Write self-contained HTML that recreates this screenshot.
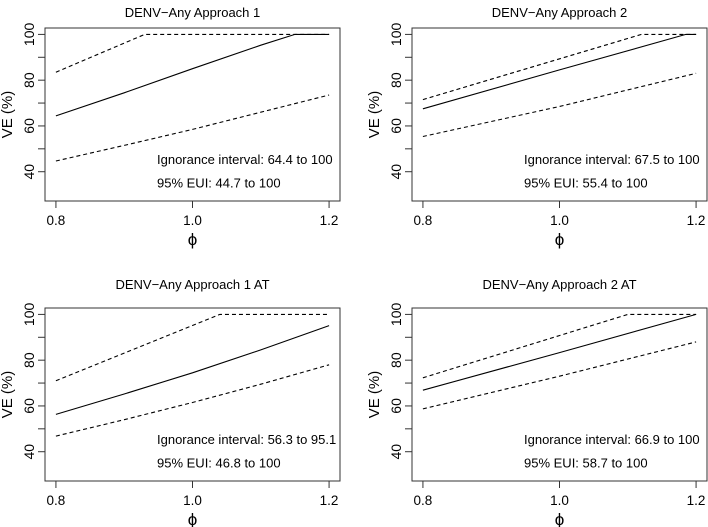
<!DOCTYPE html>
<html><head><meta charset="utf-8"><style>
body{margin:0;background:#fff}
svg{display:block;font-family:"Liberation Sans",Arial,sans-serif}
</style></head><body>
<svg id="chart" width="708" height="527" viewBox="0 0 708 527"></svg>
<script>
const titles=["DENV−Any Approach 1","DENV−Any Approach 2","DENV−Any Approach 1 AT","DENV−Any Approach 2 AT"];
const ignoranceText=["Ignorance interval: 64.4 to 100","Ignorance interval: 67.5 to 100","Ignorance interval: 56.3 to 95.1","Ignorance interval: 66.9 to 100"];
const euiText=["95% EUI: 44.7 to 100","95% EUI: 55.4 to 100","95% EUI: 46.8 to 100","95% EUI: 58.7 to 100"];
const solidX=[[0.8,0.9,1.0,1.1,1.15,1.2],[0.8,1.0,1.185,1.2],[0.8,0.9,1.0,1.1,1.2],[0.8,1.0,1.2]];
const solidY=[[64.4,74.5,85,95.3,100,100],[67.5,84.5,100,100],[56.3,65.2,74.5,84.5,95.1],[66.9,83.3,100]];
const upperX=[[0.8,0.93,1.2],[0.8,1.12,1.2],[0.8,1.04,1.2],[0.8,1.1,1.2]];
const upperY=[[83.5,100,100],[71.5,100,100],[71,100,100],[72.3,100,100]];
const lowerX=[[0.8,0.9,1.0,1.1,1.2],[0.8,1.0,1.2],[0.8,0.9,1.0,1.1,1.2],[0.8,1.0,1.2]];
const lowerY=[[44.7,51.5,58.5,66,73.5],[55.4,68.5,83],[46.8,54,61.5,69.5,78],[58.7,73,88]];
const xTicks=[0.8,1.0,1.2];
const xTickLabels=["0.8","1.0","1.2"];
const yTicks=[40,50,60,70,80,90,100];
const yTickLabels=["40","","60","","80","","100"];

const svg=document.getElementById('chart');
const NS="http://www.w3.org/2000/svg";
function mk(tag,attrs,parent){const e=document.createElementNS(NS,tag);for(const k in attrs)e.setAttribute(k,attrs[k]);parent.appendChild(e);return e;}
const offsets=[[0,0],[367,0],[0,280],[367,280]];
const titleY=[13,13,285,285];
for(let p=0;p<4;p++){
  const [ox,oy]=offsets[p];
  const g=mk('g',{},svg);
  
  
  const L=45+ox,R=340+ox,T=28+oy,B=201+oy;
  const xs=v=>L+(v-0.784)/(0.432)*(R-L);
  const ys=v=>B-(v-27.2)/(75.6)*(B-T);
  const t=mk('text',{x:(L+R)/2,y:titleY[p]+4,'text-anchor':'middle','font-size':13,fill:'#000'},g);
  t.textContent=titles[p];
  
  
  const box=mk('rect',{x:L,y:T,width:R-L,height:B-T,fill:'none',stroke:'#333','stroke-width':1},g);
  
  
  xTicks.forEach((v,i)=>{
    mk('line',{x1:xs(v),x2:xs(v),y1:B,y2:B+7,stroke:'#333'},g);
    const tl=mk('text',{x:xs(v),y:B+24,'text-anchor':'middle','font-size':13.5},g);
    tl.textContent=xTickLabels[i];
    
    
  });
  yTicks.forEach((v,i)=>{
    mk('line',{x1:L,x2:L-7,y1:ys(v),y2:ys(v),stroke:'#333'},g);
    if(yTickLabels[i]){
      const tl=mk('text',{x:0,y:0,'text-anchor':'middle','font-size':14,transform:`translate(${L-11},${ys(v)}) rotate(-90)`},g);
      tl.textContent=yTickLabels[i];
      
      
    }
  });
  const yl=mk('text',{x:0,y:0,'text-anchor':'middle','font-size':15,transform:`translate(${L-33},${(T+B)/2}) rotate(-90)`},g);
  yl.textContent="VE (%)";
  
  
  const xl=mk('text',{x:(L+R)/2,y:B+44,'text-anchor':'middle','font-size':17},g);
  xl.textContent="ϕ";
  
  
  const line=(X,Y,dash,name)=>{
    const d=X.map((v,i)=>(i?'L':'M')+xs(v).toFixed(1)+','+ys(Y[i]).toFixed(1)).join(' ');
    const pth=mk('path',{d:d,fill:'none',stroke:'#000','stroke-width':1.1,'stroke-dasharray':dash},g);
    
    
  };
  line(solidX[p],solidY[p],'none','ve-line');
  line(upperX[p],upperY[p],'4,3','upper-bound-line');
  line(lowerX[p],lowerY[p],'4,3','lower-bound-line');
  const a1=mk('text',{x:L+112,y:ys(45.6)+5,'font-size':13},g);
  a1.textContent=ignoranceText[p];
  
  
  const a2=mk('text',{x:L+112,y:ys(35.2)+5,'font-size':13},g);
  a2.textContent=euiText[p];
  
  
}
</script>
</body></html>
